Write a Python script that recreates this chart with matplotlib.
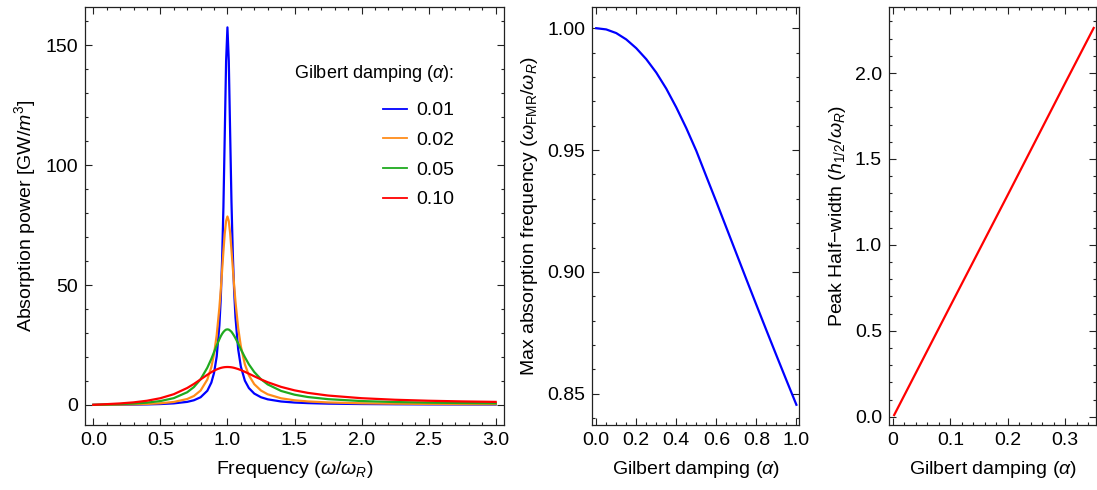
import numpy as np
import matplotlib
matplotlib.use("Agg")
import matplotlib.pyplot as plt
from matplotlib.ticker import MultipleLocator

plt.rcParams['font.family'] = ['Liberation Sans', 'DejaVu Sans']
plt.rcParams['mathtext.fontset'] = 'custom'
plt.rcParams['mathtext.rm'] = 'Liberation Sans'
plt.rcParams['mathtext.it'] = 'Liberation Sans:italic'
plt.rcParams['font.size'] = 14

# ---- panel 1: absorption power vs frequency
freq = [0.0, 0.1, 0.2, 0.3, 0.4, 0.5, 0.6, 0.7, 0.75, 0.8, 0.85, 0.88, 0.9, 0.92,
        0.94, 0.95, 0.96, 0.97, 0.98, 0.99, 1.0, 1.01, 1.02, 1.03, 1.04, 1.05,
        1.06, 1.08, 1.1, 1.13, 1.16, 1.2, 1.25, 1.3, 1.4, 1.5, 1.6, 1.75, 2.0,
        2.25, 2.5, 2.75, 3.0]
p_001 = [0.0, 0.03, 0.06, 0.11, 0.19, 0.34, 0.62, 1.25, 1.92, 3.18, 5.88, 9.29, 13.3,
         20.2, 33.2, 44.1, 60.0, 82.5, 112.7, 143.4, 157.5, 143.6, 113.9, 84.9, 63.0,
         47.4, 36.5, 23.2, 15.96, 10.1, 7.0, 4.71, 3.18, 2.31, 1.41, 0.97, 0.73, 0.51,
         0.34, 0.25, 0.19, 0.16, 0.13]
p_002 = [0.0, 0.06, 0.12, 0.22, 0.38, 0.66, 1.21, 2.45, 3.70, 5.99, 10.55, 15.75, 21.2,
         29.1, 40.6, 47.8, 55.9, 64.1, 71.5, 76.7, 78.6, 76.7, 71.7, 64.7, 57.2, 49.7,
         42.95, 32.1, 24.4, 16.9, 12.3, 8.63, 5.98, 4.41, 2.74, 1.91, 1.43, 1.01, 0.66,
         0.49, 0.38, 0.31, 0.27]
p_005 = [0.0, 0.15, 0.31, 0.55, 0.93, 1.59, 2.81, 5.27, 7.43, 10.7, 15.5, 19.2, 22.0,
         24.8, 27.4, 28.6, 29.6, 30.4, 31.0, 31.4, 31.5, 31.4, 31.0, 30.5, 29.7, 28.8,
         27.8, 25.6, 23.2, 19.9, 16.9, 13.7, 10.7, 8.54, 5.81, 4.25, 3.27, 2.38, 1.59,
         1.18, 0.93, 0.77, 0.65]
p_010 = [0.0, 0.30, 0.60, 1.04, 1.72, 2.78, 4.45, 7.04, 8.73, 10.63, 12.56, 13.63, 14.26,
         14.8, 15.23, 15.41, 15.55, 15.66, 15.74, 15.78, 15.8, 15.78, 15.74, 15.67, 15.57,
         15.44, 15.29, 14.94, 14.51, 13.79, 13.0, 11.92, 10.63, 9.45, 7.50, 6.06, 5.0,
         3.89, 2.78, 2.13, 1.72, 1.44, 1.24]
damping_labels = ['0.01', '0.02', '0.05', '0.10']
colors = ['#0000ff', '#ff8c1a', '#1faa1f', '#ff0000']

# ---- panel 2: max absorption frequency vs damping
alpha2 = [0.0, 0.05, 0.1, 0.15, 0.2, 0.25, 0.3, 0.35, 0.4, 0.45, 0.5, 0.55, 0.6, 0.65,
          0.7, 0.75, 0.8, 0.85, 0.9, 0.95, 1.0]
w_fmr = [1.0, 0.9995, 0.998, 0.9954, 0.9918, 0.9873, 0.9818, 0.9752, 0.9675, 0.9590,
         0.9497, 0.9392, 0.9288, 0.9182, 0.9076, 0.8970, 0.8865, 0.8761, 0.8658, 0.8556,
         0.8455]

# ---- panel 3: peak half-width vs damping
alpha3 = [0.002, 0.1, 0.2, 0.3, 0.35]
half_w = [0.01, 0.645, 1.29, 1.94, 2.262]

W, H = 1097, 490
fig = plt.figure(figsize=(W / 100, H / 100), dpi=100)

def px_axes(l, r, t, b):
    return fig.add_axes([l / W, 1 - b / H, (r - l) / W, (b - t) / H])

def style(ax):
    for s in ax.spines.values():
        s.set_color('#222222')
        s.set_linewidth(0.9)
    ax.tick_params(which='both', direction='in', top=True, right=True, colors='#222222',
                   labelcolor='black', labelsize=14, width=0.8)
    ax.tick_params(which='major', length=5, pad=5)
    ax.tick_params(which='minor', length=2.5)

ax1 = px_axes(85, 504, 7, 425)
for y, lab, c in zip([p_001, p_002, p_005, p_010], damping_labels, colors):
    ax1.plot(freq, y, color=c, lw=1.6, label=lab)
ax1.set_xlim(-0.062, 3.062)
ax1.set_ylim(-8.4, 166)
ax1.xaxis.set_major_locator(MultipleLocator(0.5))
ax1.xaxis.set_minor_locator(MultipleLocator(0.1))
ax1.yaxis.set_major_locator(MultipleLocator(50))
ax1.yaxis.set_minor_locator(MultipleLocator(10))
ax1.xaxis.set_major_formatter(lambda v, p: f'{v:.1f}')
style(ax1)
ax1.set_xlabel(r'Frequency ($\omega/\omega_R$)', fontsize=14, labelpad=7)
ax1.set_ylabel(r'Absorption power [GW/$m^3$]', fontsize=14, labelpad=5)
leg = ax1.legend(title=r'Gilbert damping ($\alpha$):', loc='upper right',
                 bbox_to_anchor=(0.904, 0.89), frameon=False, alignment='right',
                 handlelength=1.25, handletextpad=0.45, labelspacing=0.62, fontsize=14,
                 title_fontsize=13, borderpad=0.0)
leg._legend_box.sep = 13
for line in leg.get_lines():
    line.set_linewidth(1.3)

ax2 = px_axes(592, 799, 7, 425)
ax2.plot(alpha2, w_fmr, color='#0000ff', lw=1.6)
ax2.set_xlim(-0.021, 1.013)
ax2.set_ylim(0.8372, 1.0087)
ax2.xaxis.set_major_locator(MultipleLocator(0.2))
ax2.xaxis.set_minor_locator(MultipleLocator(0.05))
ax2.yaxis.set_major_locator(MultipleLocator(0.05))
ax2.yaxis.set_minor_locator(MultipleLocator(0.01))
ax2.xaxis.set_major_formatter(lambda v, p: f'{v:.1f}')
ax2.yaxis.set_major_formatter(lambda v, p: f'{v:.2f}')
style(ax2)
ax2.set_xlabel(r'Gilbert damping ($\alpha$)', fontsize=14, labelpad=7)
ax2.set_ylabel(r'Max absorption frequency ($\omega_{\mathrm{FMR}}/\omega_R$)', fontsize=14,
               labelpad=5)

ax3 = px_axes(889, 1096, 7, 425)
ax3.plot(alpha3, half_w, color='#ff0000', lw=1.6)
ax3.set_xlim(-0.007, 0.354)
ax3.set_ylim(-0.048, 2.384)
ax3.xaxis.set_major_locator(MultipleLocator(0.1))
ax3.xaxis.set_minor_locator(MultipleLocator(0.02))
ax3.yaxis.set_major_locator(MultipleLocator(0.5))
ax3.yaxis.set_minor_locator(MultipleLocator(0.1))
ax3.xaxis.set_major_formatter(lambda v, p: '0' if abs(v) < 1e-9 else f'{v:.1f}')
ax3.yaxis.set_major_formatter(lambda v, p: f'{v:.1f}')
style(ax3)
ax3.set_xlabel(r'Gilbert damping ($\alpha$)', fontsize=14, labelpad=7)
ax3.set_ylabel('Peak Half\u2212width ' + r'($h_{1/2}/\omega_R$)', fontsize=14, labelpad=5)

fig.savefig('out.png', dpi=100)
